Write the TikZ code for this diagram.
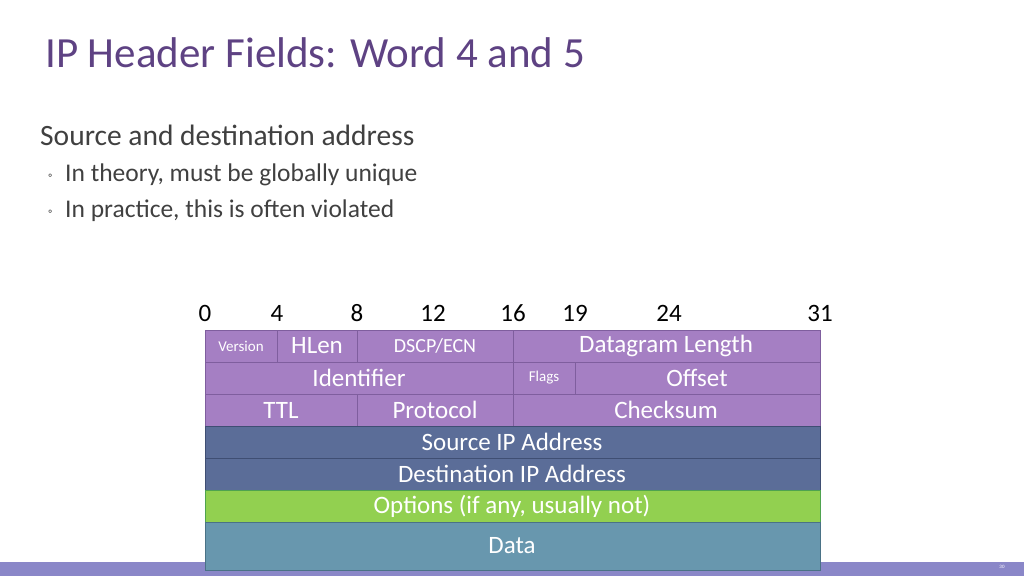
\documentclass[tikz,border=0pt]{standalone}
\usepackage{fontspec}
\setmainfont{Carlito}
\definecolor{titlec}{HTML}{5E4283}
\definecolor{bodyc}{HTML}{404040}
\definecolor{purp}{HTML}{A57FC3}
\definecolor{purpd}{HTML}{7F5E9E}
\definecolor{bluef}{HTML}{5B6D98}
\definecolor{blued}{HTML}{3F4E73}
\definecolor{greenf}{HTML}{92D050}
\definecolor{greend}{HTML}{4FA34F}
\definecolor{dataf}{HTML}{6897AE}
\definecolor{datad}{HTML}{4A7286}
\definecolor{barc}{HTML}{8A87C8}
\begin{document}
\begin{tikzpicture}[x=1pt,y=-1pt,
  fld/.style={draw=purpd,fill=purp,line width=1pt},
  lbl/.style={text=white,font=\fontsize{25}{27}\selectfont},
  slbl/.style={text=white,font=\fontsize{15}{17}\selectfont},
  num/.style={text=black,font=\fontsize{25}{27}\selectfont}]
\useasboundingbox (0,0) rectangle (1024,576);
\fill[barc] (0,562) rectangle (1024,576);
\node[text=white,font=\fontsize{5}{6}\selectfont] (pg) at (1002,567) {30};
\node[anchor=base west,text=titlec,font=\fontsize{43}{47}\selectfont,inner sep=0] (title) at (45,67) {IP Header Fields: Word 4 and 5};
\node[anchor=base west,text=bodyc,font=\fontsize{29.5}{32}\selectfont,inner sep=0] (b0) at (40,145) {Source and destination address};
\node[anchor=base west,text=bodyc,font=\fontsize{12}{12}\selectfont,inner sep=0] (d1) at (48,179) {◦};
\node[anchor=base west,text=bodyc,font=\fontsize{25.5}{28}\selectfont,inner sep=0] (b1) at (65,181) {In theory, must be globally unique};
\node[anchor=base west,text=bodyc,font=\fontsize{12}{12}\selectfont,inner sep=0] (d2) at (48,215) {◦};
\node[anchor=base west,text=bodyc,font=\fontsize{25.5}{28}\selectfont,inner sep=0] (b2) at (65,217) {In practice, this is often violated};
\foreach \n/\x in {0/205,4/277,8/357,12/433,16/513,19/575,24/669,31/820}
  \node[num] (n\n) at (\x,313) {\n};
% row 1
\draw[fld] (205,330) rectangle (277,362); \node[slbl] (ver) at (241,346) {Version};
\draw[fld] (277,330) rectangle (357,362); \node[lbl] (hl) at (317,346) {HLen};
\draw[fld] (357,330) rectangle (513,362); \node[lbl,font=\fontsize{20}{22}\selectfont] (ds) at (435,346) {DSCP/ECN};
\draw[fld] (513,330) rectangle (820,362); \node[lbl] (dl) at (666,346) {Datagram Length};
% row 2
\draw[fld] (205,362) rectangle (513,394); \node[lbl] (id) at (359,378) {Identifier};
\draw[fld] (513,362) rectangle (575,394); \node[slbl] (fl) at (544,378) {Flags};
\draw[fld] (575,362) rectangle (820,394); \node[lbl] (off) at (697,378) {Offset};
% row 3
\draw[fld] (205,394) rectangle (357,426); \node[lbl] (ttl) at (281,410) {TTL};
\draw[fld] (357,394) rectangle (513,426); \node[lbl] (pr) at (435,410) {Protocol};
\draw[fld] (513,394) rectangle (820,426); \node[lbl] (cs) at (666,410) {Checksum};
% others
\draw[draw=blued,fill=bluef,line width=1pt] (205,426) rectangle (820,458); \node[lbl] (src) at (512,442) {Source IP Address};
\draw[draw=blued,fill=bluef,line width=1pt] (205,458) rectangle (820,490); \node[lbl] (dst) at (512,474) {Destination IP Address};
\draw[draw=greend,fill=greenf,line width=1pt] (205,490) rectangle (820,522); \node[lbl] (opt) at (512,506) {Options (if any, usually not)};
\draw[draw=datad,fill=dataf,line width=1pt] (205,522) rectangle (820,570); \node[lbl] (dat) at (512,546) {Data};
\end{tikzpicture}
\end{document}
